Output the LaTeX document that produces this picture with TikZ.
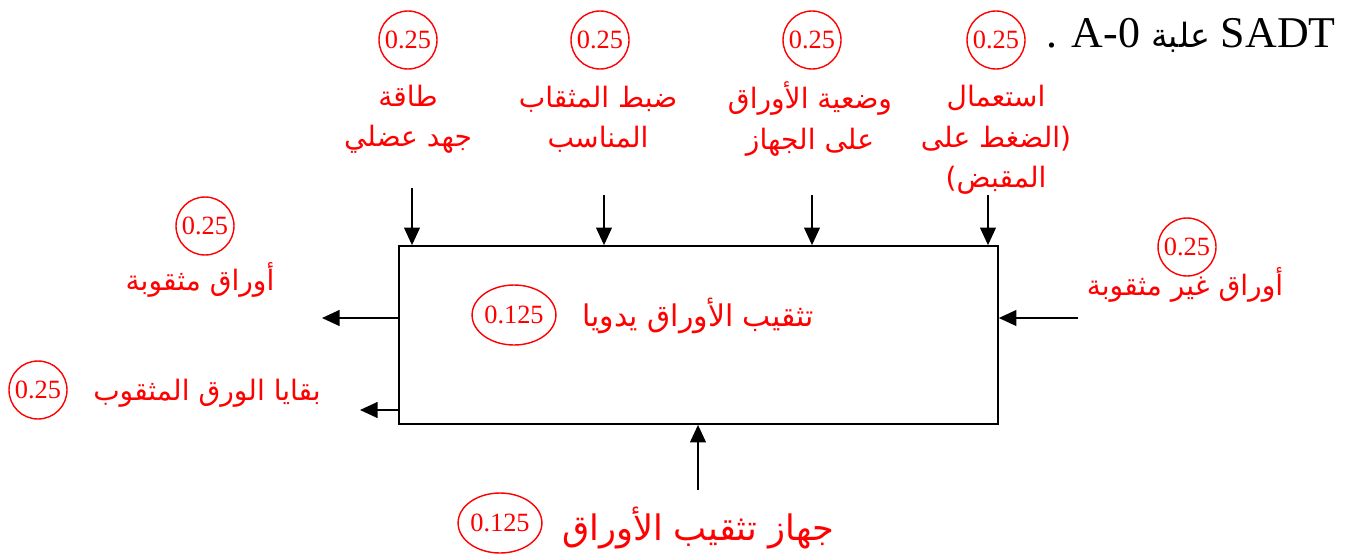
\documentclass[tikz,border=0pt]{standalone}
\usepackage{fontspec}
\setmainfont{Liberation Serif}
\newfontfamily\arabicfont[Script=Arabic]{DejaVu Sans}
\TeXXeTstate=1
\usetikzlibrary{arrows.meta,shapes.geometric}

\newcommand{\rl}[1]{\beginR #1\endR}

\begin{document}
\begin{tikzpicture}[x=0.02cm,y=-0.02cm,>={Triangle[length=10pt,width=9pt]},
  score/.style={draw=red,text=red,circle,line width=0.8pt,inner sep=0pt,minimum size=1.16cm,font=\fontsize{15}{15}\selectfont},
  bigscore/.style={score,ellipse,minimum width=1.46cm,minimum height=1.2cm},
  lbl/.style={text=red,align=center,inner sep=0pt,font=\arabicfont\fontsize{16}{23}\selectfont},
  flow/.style={->,line width=1pt}]

\useasboundingbox (0,0) rectangle (1348,558);

% title
\node[anchor=east,inner sep=0pt,font=\fontsize{25}{25}\selectfont] (title) at (1336,35) {. A-0 {\arabicfont\fontsize{19}{19}\selectfont\rl{علبة}} SADT};

% the box
\node[draw,line width=1pt,minimum width=11.98cm,minimum height=3.56cm] (box) at (698.5,335) {};
\node[lbl,font=\arabicfont\fontsize{17}{20}\selectfont] (task) at (698,316) {\rl{تثقيب الأوراق يدويا}};
\node[bigscore] (stask) at (514,315) {0.125};

% controls
\node[score] (s1) at (408,40) {0.25};
\node[score] (s2) at (600,40) {0.25};
\node[score] (s3) at (812,40) {0.25};
\node[score] (s4) at (996,40) {0.25};
\node[lbl] (c1) at (408,119) {\rl{طاقة}\\\rl{جهد عضلي}};
\node[lbl] (c2) at (598,119) {\rl{ضبط المثقاب}\\\rl{المناسب}};
\node[lbl] (c3) at (810,119) {\rl{وضعية الأوراق}\\\rl{على الجهاز}};
\node[lbl] (c4) at (996,140) {\rl{استعمال}\\\rl{(الضغط على}\\\rl{المقبض)}};
\coordinate (t1) at (412,188);
\coordinate (t2) at (604,195);
\coordinate (t3) at (812,195);
\coordinate (t4) at (988,195);
\foreach \t in {t1,t2,t3,t4}
  \draw[flow] (\t) -- (\t |- box.north);

% input
\node[score] (s5) at (1187,247) {0.25};
\node[lbl] (in) at (1185,285) {\rl{أوراق غير مثقوبة}};
\coordinate (i1) at (1078,318);
\draw[flow] (i1) -- (i1 -| box.east);

% outputs
\node[score] (s6) at (205,226) {0.25};
\node[lbl] (out1) at (200,280) {\rl{أوراق مثقوبة}};
\node[score] (s7) at (38,390) {0.25};
\node[lbl] (out2) at (207,393) {\rl{بقايا الورق المثقوب}};
\coordinate (o1) at (322,318);
\coordinate (o2) at (360,410);
\draw[flow] (o1 -| box.west) -- (o1);
\draw[flow] (o2 -| box.west) -- (o2);

% mechanism
\node[lbl,font=\arabicfont\fontsize{20}{24}\selectfont] (mech) at (698,528) {\rl{جهاز تثقيب الأوراق}};
\node[bigscore] (smech) at (500,523) {0.125};
\coordinate (m1) at (698,490);
\draw[flow] (m1) -- (m1 |- box.south);

\end{tikzpicture}
\end{document}
